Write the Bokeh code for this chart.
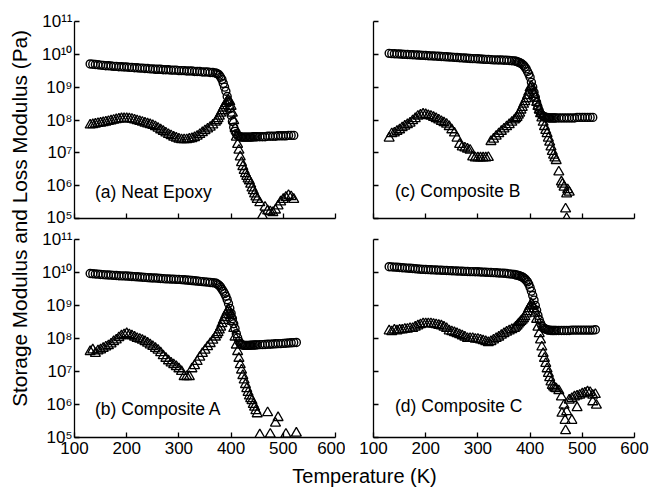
import math
from bokeh.plotting import figure
from bokeh.models import Range1d, FixedTicker, CustomJSTickFormatter, Label
from bokeh.layouts import row, column
from bokeh.embed import file_html
from bokeh.resources import INLINE

nan = float("nan")

# ---------------- data ----------------
temps = [130, 135, 140, 145, 150, 155, 160, 165, 170, 175,
         180, 185, 190, 195, 200, 205, 210, 215, 220, 225,
         230, 235, 240, 245, 250, 255, 260, 265, 270, 275,
         280, 285, 290, 295, 300, 305, 310, 315, 320, 325,
         330, 335, 340, 345, 350, 355, 360, 365, 370,
         372.5, 375, 377.5, 380, 382.5, 385, 387.5, 390, 392.5, 395,
         397.5, 400, 402.5, 405, 407.5, 410, 412.5, 415, 417.5, 420,
         422.5, 425, 427.5, 430, 432.5, 435, 437.5, 440, 442.5, 445,
         447.5, 450, 455, 460, 465, 470, 475, 480, 485, 490, 495, 500, 505, 510, 515, 520, 525]

# (a) Neat Epoxy
storage_a = [5.1e9, 5.0e9, 4.9e9, 4.8e9, 4.7e9, 4.6e9, 4.5e9, 4.5e9, 4.4e9, 4.3e9,
             4.3e9, 4.2e9, 4.2e9, 4.1e9, 4.1e9, 4.0e9, 4.0e9, 3.9e9, 3.9e9, 3.8e9,
             3.8e9, 3.7e9, 3.7e9, 3.6e9, 3.6e9, 3.5e9, 3.5e9, 3.5e9, 3.4e9, 3.4e9,
             3.4e9, 3.3e9, 3.3e9, 3.3e9, 3.2e9, 3.2e9, 3.2e9, 3.1e9, 3.1e9, 3.1e9,
             3.0e9, 3.0e9, 3.0e9, 2.9e9, 2.9e9, 2.9e9, 2.8e9, 2.8e9, 2.7e9,
             2.6e9, 2.5e9, 2.3e9, 2.0e9, 1.7e9, 1.3e9, 1.0e9, 7.5e8, 5.2e8, 3.5e8,
             2.2e8, 1.4e8, 9.0e7, 6.0e7, 4.5e7, 3.8e7, 3.4e7, 3.2e7, 3.1e7, 3.0e7,
             3.0e7, 3.0e7, 3.0e7, 3.0e7, 3.0e7, 3.0e7, 3.0e7, 3.0e7, 3.1e7, 3.1e7,
             3.1e7, 3.1e7, 3.1e7, 3.1e7, 3.1e7, 3.2e7, 3.2e7, 3.2e7, 3.2e7, 3.3e7,
             3.3e7, 3.3e7, 3.3e7, 3.4e7, 3.4e7, 3.4e7, nan]
loss_a = [7.0e7, 7.2e7, 7.5e7, 7.8e7, 8.0e7, 8.3e7, 8.6e7, 9.0e7, 9.4e7, 9.8e7,
          1.02e8, 1.06e8, 1.1e8, 1.1e8, 1.1e8, 1.08e8, 1.05e8, 1.0e8, 9.5e7, 9.0e7,
          8.5e7, 8.0e7, 7.6e7, 7.2e7, 6.8e7, 6.2e7, 5.6e7, 5.0e7, 4.5e7, 4.0e7,
          3.6e7, 3.3e7, 3.0e7, 2.8e7, 2.6e7, 2.5e7, 2.5e7, 2.5e7, 2.6e7, 2.7e7,
          2.9e7, 3.2e7, 3.6e7, 4.1e7, 4.7e7, 5.3e7, 6.0e7, 7.0e7, 8.5e7,
          9.5e7, 1.1e8, 1.3e8, 1.6e8, 1.9e8, 2.3e8, 2.7e8, 3.2e8, 3.7e8, 3.9e8,
          3.6e8, 2.6e8, 1.6e8, 9.5e7, 5.5e7, 3.0e7, 1.8e7, 1.2e7, 7.5e6, 5.0e6,
          3.8e6, 2.9e6, 2.3e6, 1.9e6, 1.6e6, 1.4e6, 1.1e6, 8.5e5, 7.0e5, 5.6e5,
          4.5e5, 3.8e5, 3.0e5, 1.2e5, 2.2e5, 1.7e5, 1.6e5, 1.5e5, 1.8e5, 2.4e5,
          3.2e5, 3.8e5, 4.4e5, 5.0e5, 4.6e5, 3.8e5, nan]

# (b) Composite A
storage_b = [9.3e9, 9.2e9, 9.0e9, 8.9e9, 8.7e9, 8.6e9, 8.5e9, 8.4e9, 8.3e9, 8.2e9,
             8.1e9, 8.0e9, 7.9e9, 7.9e9, 7.8e9, 7.7e9, 7.6e9, 7.5e9, 7.4e9, 7.3e9,
             7.2e9, 7.1e9, 7.0e9, 6.9e9, 6.8e9, 6.8e9, 6.7e9, 6.6e9, 6.5e9, 6.4e9,
             6.4e9, 6.3e9, 6.3e9, 6.2e9, 6.2e9, 6.1e9, 6.0e9, 5.9e9, 5.8e9, 5.7e9,
             5.6e9, 5.5e9, 5.4e9, 5.3e9, 5.2e9, 5.1e9, 5.0e9, 4.9e9, 4.8e9,
             4.6e9, 4.3e9, 4.0e9, 3.6e9, 3.1e9, 2.7e9, 2.3e9, 1.9e9, 1.5e9, 1.15e9,
             8.2e8, 5.8e8, 4.0e8, 2.8e8, 2.0e8, 1.4e8, 1.05e8, 8.2e7, 7.0e7, 6.5e7,
             6.3e7, 6.2e7, 6.2e7, 6.2e7, 6.2e7, 6.2e7, 6.3e7, 6.3e7, 6.3e7, 6.4e7,
             6.4e7, 6.4e7, 6.5e7, 6.5e7, 6.6e7, 6.7e7, 6.7e7, 6.8e7, 6.9e7, 7.0e7,
             7.0e7, 7.1e7, 7.2e7, 7.3e7, 7.4e7, 7.5e7, 7.6e7]
loss_b = [4.0e7, 4.5e7, 3.5e7, 4.2e7, 4.5e7, 5.0e7, 5.5e7, 6.0e7, 6.8e7, 8.0e7,
          9.0e7, 1.05e8, 1.2e8, 1.3e8, 1.4e8, 1.3e8, 1.2e8, 1.1e8, 1.0e8, 9.5e7,
          8.8e7, 8.0e7, 7.2e7, 6.4e7, 5.7e7, 5.0e7, 4.4e7, 3.7e7, 3.0e7, 2.5e7,
          2.1e7, 1.8e7, 1.6e7, 1.4e7, 1.2e7, 1.0e7, 7.0e6, 7.0e6, 7.0e6, 1.2e7,
          1.5e7, 2.0e7, 2.7e7, 3.5e7, 4.4e7, 5.6e7, 7.0e7, 8.8e7, 1.1e8,
          1.3e8, 1.5e8, 1.8e8, 2.2e8, 2.8e8, 3.5e8, 4.3e8, 5.3e8, 6.4e8, 7.2e8,
          6.4e8, 5.0e8, 3.3e8, 2.0e8, 1.1e8, 6.3e7, 4.0e7, 2.5e7, 1.6e7, 1.1e7,
          7.5e6, 5.5e6, 4.0e6, 3.0e6, 2.3e6, 1.8e6, 1.5e6, 1.3e6, 1.0e6, 8.3e5,
          6.5e5, 5.2e5, 1.2e5, nan, nan, 5.6e5, 1.25e5, nan, 2.7e5, 4.0e5,
          nan, nan, 1.25e5, nan, nan, nan, 1.35e5]

# (c) Composite B
storage_c = [1.07e10, 1.05e10, 1.04e10, 1.03e10, 1.02e10, 1.01e10, 1.0e10, 9.9e9, 9.8e9, 9.7e9,
             9.6e9, 9.5e9, 9.4e9, 9.3e9, 9.2e9, 9.1e9, 9.0e9, 8.9e9, 8.8e9, 8.7e9,
             8.6e9, 8.5e9, 8.4e9, 8.3e9, 8.2e9, 8.1e9, 8.0e9, 7.9e9, 7.8e9, 7.7e9,
             7.6e9, 7.5e9, 7.4e9, 7.4e9, 7.3e9, 7.2e9, 7.1e9, 7.0e9, 7.0e9, 6.9e9,
             6.8e9, 6.8e9, 6.7e9, 6.7e9, 6.6e9, 6.6e9, 6.5e9, 6.4e9, 6.3e9,
             6.2e9, 6.0e9, 5.8e9, 5.6e9, 5.3e9, 5.0e9, 4.6e9, 4.1e9, 3.6e9, 3.0e9,
             2.5e9, 2.0e9, 1.4e9, 1.0e9, 7.0e8, 4.9e8, 3.4e8, 2.5e8, 1.9e8, 1.55e8,
             1.4e8, 1.3e8, 1.25e8, 1.2e8, 1.2e8, 1.15e8, 1.15e8, 1.15e8, 1.15e8, 1.15e8,
             1.15e8, 1.15e8, 1.15e8, 1.15e8, 1.15e8, 1.15e8, 1.15e8, 1.15e8, 1.15e8, 1.2e8,
             1.2e8, 1.2e8, 1.2e8, 1.2e8, 1.2e8, 1.2e8, nan]
loss_c = [2.8e7, 3.8e7, 4.0e7, 4.5e7, 5.0e7, 5.8e7, 6.5e7, 7.2e7, 8.0e7, 9.5e7,
          1.1e8, 1.3e8, 1.4e8, 1.5e8, 1.45e8, 1.35e8, 1.3e8, 1.2e8, 1.1e8, 1.0e8,
          9.0e7, 8.2e7, 7.4e7, 6.3e7, 5.0e7, 4.0e7, 2.8e7, 1.8e7, 1.5e7, 1.4e7,
          1.3e7, 1.2e7, 7.5e6, 7.0e6, 7.0e6, 7.0e6, 7.0e6, 7.0e6, 7.2e6, 2.2e7,
          2.6e7, 3.2e7, 3.8e7, 4.5e7, 5.3e7, 6.2e7, 7.2e7, 8.5e7, 1.0e8,
          1.1e8, 1.2e8, 1.4e8, 1.6e8, 2.0e8, 2.4e8, 3.0e8, 3.6e8, 4.4e8, 5.5e8,
          7.0e8, 9.5e8, 1.05e9, 8.0e8, 6.0e8, 4.6e8, 3.4e8, 2.6e8, 2.0e8, 1.55e8,
          1.15e8, 8.5e7, 6.3e7, 4.8e7, 3.8e7, 2.8e7, 2.1e7, 1.5e7, 1.1e7, 8.5e6,
          7.0e6, 5.8e6, 2.6e6, 1.3e6, 9.0e5, 5.6e5, 6.3e5, nan, nan, nan,
          nan, nan, nan, nan, nan, nan, nan]
loss_c_extra_t = [462, 468, 470, 472]
loss_c_extra = [1.1e6, 1.95e5, 1.0e5, 7.5e5]

# (d) Composite C
storage_d = [1.5e10, 1.48e10, 1.46e10, 1.44e10, 1.42e10, 1.4e10, 1.38e10, 1.36e10, 1.34e10, 1.32e10,
             1.3e10, 1.28e10, 1.26e10, 1.24e10, 1.23e10, 1.22e10, 1.21e10, 1.2e10, 1.19e10, 1.18e10,
             1.17e10, 1.16e10, 1.15e10, 1.14e10, 1.13e10, 1.12e10, 1.11e10, 1.1e10, 1.09e10, 1.08e10,
             1.07e10, 1.06e10, 1.06e10, 1.05e10, 1.05e10, 1.04e10, 1.03e10, 1.02e10, 1.01e10, 1.0e10,
             9.9e9, 9.8e9, 9.7e9, 9.6e9, 9.5e9, 9.3e9, 9.1e9, 8.9e9, 8.7e9,
             8.5e9, 8.3e9, 8.1e9, 7.9e9, 7.6e9, 7.3e9, 6.9e9, 6.4e9, 5.8e9, 5.2e9,
             4.4e9, 3.5e9, 2.7e9, 2.0e9, 1.45e9, 1.0e9, 7.2e8, 5.0e8, 3.7e8, 2.9e8,
             2.4e8, 2.1e8, 2.0e8, 1.9e8, 1.85e8, 1.8e8, 1.8e8, 1.75e8, 1.75e8, 1.75e8,
             1.75e8, 1.75e8, 1.75e8, 1.75e8, 1.75e8, 1.75e8, 1.75e8, 1.8e8, 1.8e8, 1.8e8,
             1.8e8, 1.8e8, 1.8e8, 1.8e8, 1.8e8, 1.8e8, 1.85e8]
loss_d = [1.7e8, 1.6e8, 1.8e8, 1.7e8, 1.8e8, 1.8e8, 1.9e8, 1.9e8, 2.0e8, 2.0e8,
          2.2e8, 2.4e8, 2.6e8, 2.8e8, 2.8e8, 2.8e8, 2.8e8, 2.7e8, 2.6e8, 2.5e8,
          2.4e8, 2.2e8, 2.0e8, 1.7e8, 1.6e8, 1.5e8, 1.4e8, 1.3e8, 1.2e8, 1.1e8,
          1.0e8, 1.0e8, 1.0e8, 9.5e7, 9.5e7, 9.0e7, 8.5e7, 8.0e7, 7.5e7, 8.0e7,
          9.0e7, 1.0e8, 1.1e8, 1.25e8, 1.4e8, 1.55e8, 1.7e8, 1.85e8, 2.0e8,
          2.2e8, 2.4e8, 2.7e8, 3.0e8, 3.3e8, 3.6e8, 4.0e8, 4.6e8, 5.5e8, 6.5e8,
          8.0e8, 9.5e8, 1.1e9, 1.0e9, 8.0e8, 5.8e8, 3.8e8, 2.2e8, 1.4e8, 9.0e7,
          5.5e7, 3.5e7, 2.5e7, 1.75e7, 1.2e7, 8.7e6, 6.5e6, 4.8e6, 3.8e6, 3.4e6,
          3.1e6, 3.0e6, 2.6e6, 1.7e6, 9.5e5, 6.0e5, 1.35e6, 1.5e6, 1.7e6, 1.8e6,
          1.9e6, 2.1e6, 2.2e6, 2.4e6, 2.3e6, 1.9e6, 2.0e6]
loss_d_extra_t = [461, 467, 468, 480, 490, 520, 527]
loss_d_extra = [5.4e5, 3.3e5, 1.6e5, 3.3e5, 8.0e5, 1.2e6, 9.5e5]

x_ticks = [100, 200, 300, 400, 500, 600]
x_tick_labels = ["100", "200", "300", "400", "500", "600"]
y_ticks = [1e5, 1e6, 1e7, 1e8, 1e9, 1e10, 1e11]
y_tick_labels = ["10\u2075", "10\u2076", "10\u2077", "10\u2078", "10\u2079", "10\u00b9\u2070", "10\u00b9\u00b9"]
panel_titles = ["(a) Neat Epoxy", "(b) Composite A", "(c) Composite B", "(d) Composite C"]
y_title = "Storage Modulus and Loss Modulus  (Pa)"
x_title = "Temperature (K)"

for s in (storage_a, loss_a, storage_b, loss_b, storage_c, loss_c, storage_d, loss_d):
    assert len(s) == len(temps), len(s)

FONT = "Liberation Sans"
TICK_FS = "17px"


def x_formatter(show):
    if not show:
        return CustomJSTickFormatter(code="return '';")
    return CustomJSTickFormatter(args=dict(vals=x_ticks, labs=x_tick_labels),
                                 code="const i = vals.indexOf(tick); return i >= 0 ? labs[i] : '';")


def y_formatter(show):
    if not show:
        return CustomJSTickFormatter(code="return '';")
    return CustomJSTickFormatter(
        args=dict(vals=y_ticks, labs=y_tick_labels),
        code="""
        let best = 0, bd = Infinity;
        for (let i = 0; i < vals.length; i++) {
            const d = Math.abs(Math.log10(tick) - Math.log10(vals[i]));
            if (d < bd) { bd = d; best = i; }
        }
        return labs[best];
        """)


def make_panel(title, storage, loss, extra_t, extra_v, show_x, show_y,
               width, height, bl, br, bt, bb, lab_x, lab_y):
    p = figure(width=width, height=height,
               x_range=Range1d(100, 600), y_range=Range1d(1e5, 1e11),
               y_axis_type="log", output_backend="svg", toolbar_location=None,
               min_border_left=bl, min_border_right=br,
               min_border_top=bt, min_border_bottom=bb)
    p.outline_line_color = None
    p.grid.visible = False
    for ax, show, fmt, ticks in ((p.xaxis[0], show_x, x_formatter, x_ticks),
                                 (p.yaxis[0], show_y, y_formatter, y_ticks)):
        ax.ticker = FixedTicker(ticks=ticks)
        ax.formatter = fmt(show)
        ax.axis_line_color = "black"
        ax.axis_line_width = 1.3
        ax.major_tick_in = 5
        ax.major_tick_out = 0
        ax.major_tick_line_width = 1.3
        ax.minor_tick_line_color = None
        ax.major_label_text_font = FONT
        ax.major_label_text_font_size = TICK_FS
        ax.major_label_text_color = "black"
    p.xaxis[0].major_label_standoff = 4
    p.yaxis[0].major_label_standoff = 2

    p.scatter(temps, storage, marker="circle", size=8, fill_color=None,
              line_color="black", line_width=1.4)
    p.scatter(temps, loss, marker="triangle", size=10, fill_color=None,
              line_color="black", line_width=1.3)
    if extra_t:
        p.scatter(extra_t, extra_v, marker="triangle", size=10, fill_color=None,
                  line_color="black", line_width=1.3)
    p.add_layout(Label(x=lab_x, y=lab_y, x_units="screen", y_units="screen",
                       text=title, text_font=FONT, text_font_size="17.5px",
                       text_color="black", text_baseline="middle"))
    return p


# top row: page y 0..226, frames 21..218 ; bottom row: page y 226..457, frames 239..437
pa = make_panel(panel_titles[0], storage_a, loss_a, [], [], False, True,
                307, 226, 35, 10, 21, 8, 20.5, 27)
pc = make_panel(panel_titles[2], storage_c, loss_c, loss_c_extra_t, loss_c_extra, False, False,
                304, 226, 28, 15, 21, 8, 21.5, 28)
pb = make_panel(panel_titles[1], storage_b, loss_b, [], [], True, True,
                307, 231, 35, 10, 13, 20, 20.5, 29)
pd = make_panel(panel_titles[3], storage_d, loss_d, loss_d_extra_t, loss_d_extra, True, False,
                304, 231, 28, 15, 13, 20, 21.5, 32)

ylab = figure(width=38, height=488, x_range=Range1d(0, 1), y_range=Range1d(0, 1),
              x_axis_type=None, y_axis_type=None, output_backend="svg",
              toolbar_location=None, min_border=0)
ylab.outline_line_color = None
ylab.grid.visible = False
ylab.add_layout(Label(x=19, y=488 - 215, x_units="screen", y_units="screen", text=y_title,
                      angle=math.pi / 2, text_align="center", text_baseline="middle",
                      text_font=FONT, text_font_size="20.8px", text_color="black"))

xlab = figure(width=611, height=31, x_range=Range1d(0, 1), y_range=Range1d(0, 1),
              x_axis_type=None, y_axis_type=None, output_backend="svg",
              toolbar_location=None, min_border=0)
xlab.outline_line_color = None
xlab.grid.visible = False
xlab.add_layout(Label(x=364 - 38, y=13, x_units="screen", y_units="screen", text=x_title,
                      text_align="center", text_baseline="middle",
                      text_font=FONT, text_font_size="20px", text_color="black"))

layout = row(ylab, column(row(pa, pc), row(pb, pd), xlab))

with open("out.html", "w", encoding="utf-8") as f:
    f.write(file_html(layout, INLINE))
